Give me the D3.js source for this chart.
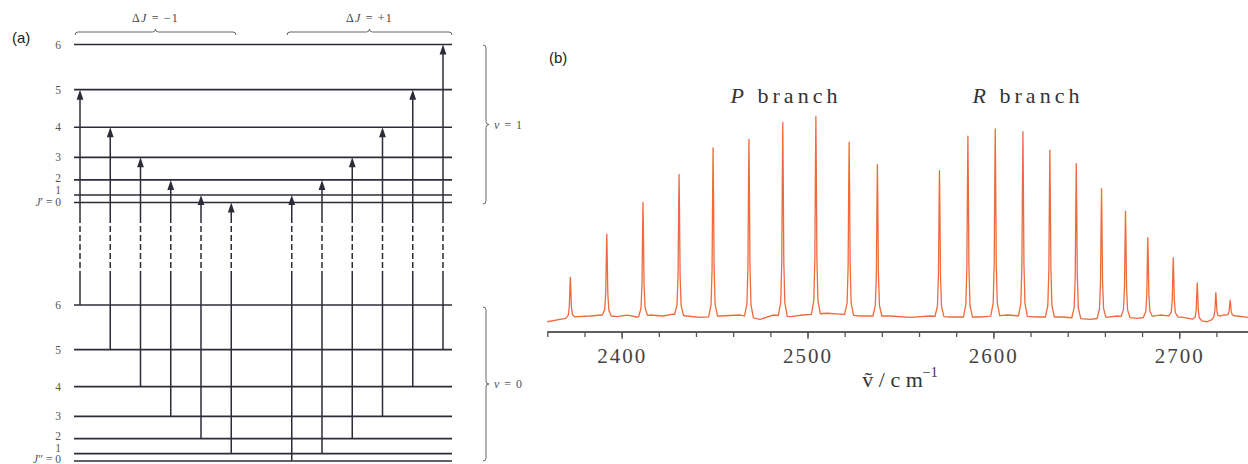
<!DOCTYPE html>
<html>
<head>
<meta charset="utf-8">
<style>
  body { margin: 0; background: #fff; }
  svg { display: block; }
</style>
</head>
<body>
<script src="https://cdn.jsdelivr.net/npm/d3@7"></script>
<script>
// ---------- data: panel (a) ----------
var levelJ = [0, 1, 2, 3, 4, 5, 6];
var rotTerm = [0, 2, 6, 12, 20, 30, 42];          // J(J+1)
var pLowerJ = [6, 5, 4, 3, 2, 1], pUpperJ = [5, 4, 3, 2, 1, 0];
var rLowerJ = [0, 1, 2, 3, 4, 5], rUpperJ = [1, 2, 3, 4, 5, 6];

// ---------- data: panel (b) ----------
var pBranchNu = [2372.4, 2392.0, 2411.5, 2430.9, 2449.2, 2468.5, 2486.7, 2504.5, 2522.4, 2537.6];
var pBranchI  = [20.4, 41.1, 57.4, 70.9, 85.2, 89.7, 97.8, 99.8, 87.2, 76.4];
var rBranchNu = [2571.0, 2586.3, 2601.0, 2615.9, 2630.4, 2644.6, 2658.2, 2671.1, 2683.1, 2696.8, 2709.7, 2719.7, 2727.4];
var rBranchI  = [73.7, 91.4, 94.4, 93.1, 84.3, 78.1, 65.3, 53.5, 40.0, 29.6, 18.7, 12.8, 7.7];
var baseNu = [2360, 2366.8, 2376, 2383, 2389.4, 2397.5, 2402.9, 2408.3, 2415.3, 2422.3, 2427.6, 2435.2,
              2442.2, 2452.9, 2463.7, 2474.5, 2481.5, 2490.6, 2497.6, 2510.5, 2517.5, 2528.3, 2544.4,
              2555.2, 2566, 2576.7, 2592.9, 2607.4, 2623.6, 2637.5, 2652.1, 2666.6, 2677.4, 2689.7,
              2702.1, 2715, 2723.6, 2731.2, 2737];
var baseI  = [-2.4, -1.2, 0.2, 0.5, 1, 0.2, 1, 0, 1, 0.5, 1.5, 0.5,
              -0.2, 0.5, 1, -1.2, 1, 0.2, 1, 1.9, 1.5, 0.5, 0.5,
              -0.2, 0.5, 0, 0, 1, 0, 0, -1.2, 0.5, -0.7, 1,
              -0.2, -2.4, 1, 0.5, -0.2];
var majorTicks = [2400, 2500, 2600, 2700];
var minorTicks = d3.range(2360, 2737, 20);

var W = 1248, H = 464;
var svg = d3.select("body").append("svg").attr("width", W).attr("height", H);
svg.append("rect").attr("width", W).attr("height", H).attr("fill", "#fff");

var ink = "#2c2c38", serif = "'Liberation Serif', 'DejaVu Serif', serif";

// ================= panel (a) =================
var a = svg.append("g");
a.append("text").attr("x", 12).attr("y", 43).text("(a)")
    .attr("font-family", "'Liberation Sans', Arial, sans-serif").attr("font-size", 15).attr("fill", "#222");

var yUpper = d3.scaleLinear().domain([0, 42]).range([202.5, 44.5]);
var yLower = d3.scaleLinear().domain([0, 42]).range([461, 305]);
var xSlot = d3.scaleLinear().domain([0, 12]).range([80, 443]);
var levelX0 = 74, levelX1 = 452;

function drawLevels(yScale, prime, shift) {
    levelJ.forEach(function (j, i) {
        var y = yScale(rotTerm[i]);
        a.append("line").attr("x1", levelX0).attr("x2", levelX1).attr("y1", y).attr("y2", y)
            .attr("stroke", ink).attr("stroke-width", 1.7);
        var t = a.append("text").attr("x", 61).attr("y", y + shift[j])
            .attr("text-anchor", "end").attr("font-family", serif).attr("font-size", 11.5).attr("fill", "#555");
        if (j === 0) {
            t.append("tspan").attr("font-style", "italic").text("J");
            t.append("tspan").text(prime + " = 0");
        } else {
            t.text(j);
        }
    });
}
drawLevels(yUpper, "\u2032", [3.5, -1, 2, 4, 4, 4, 4]);
drawLevels(yLower, "\u2033", [2, -2, 1, 4, 4, 4, 4]);

var dashTop = 218, dashBot = 277;
var transitions = pLowerJ.map(function (lj, i) { return { slot: i, lo: lj, up: pUpperJ[i] }; })
    .concat(rLowerJ.map(function (lj, i) { return { slot: i + 7, lo: lj, up: rUpperJ[i] }; }));

transitions.forEach(function (d) {
    var x = xSlot(d.slot), y0 = yLower(rotTerm[d.lo]), y1 = yUpper(rotTerm[d.up]);
    a.append("line").attr("x1", x).attr("x2", x).attr("y1", y0).attr("y2", dashBot)
        .attr("stroke", ink).attr("stroke-width", 1.5);
    a.append("line").attr("x1", x).attr("x2", x).attr("y1", dashBot).attr("y2", dashTop)
        .attr("stroke", ink).attr("stroke-width", 1.5).attr("stroke-dasharray", "6,3");
    a.append("line").attr("x1", x).attr("x2", x).attr("y1", dashTop).attr("y2", y1 + 6)
        .attr("stroke", ink).attr("stroke-width", 1.5);
    a.append("path").attr("d", "M" + x + "," + y1 + "L" + (x - 3.4) + "," + (y1 + 10) + "L" + (x + 3.4) + "," + (y1 + 10) + "Z")
        .attr("fill", ink);
});

function hBrace(x1, x2, y, q) {
    var m = (x1 + x2) / 2;
    return "M" + x1 + "," + (y + q) + "Q" + x1 + "," + y + " " + (x1 + q) + "," + y +
        "L" + (m - q) + "," + y + "Q" + m + "," + y + " " + m + "," + (y - q) +
        "Q" + m + "," + y + " " + (m + q) + "," + y +
        "L" + (x2 - q) + "," + y + "Q" + x2 + "," + y + " " + x2 + "," + (y + q);
}
function vBrace(x, y1, y2, q) {
    var m = (y1 + y2) / 2;
    return "M" + (x - q) + "," + y1 + "Q" + x + "," + y1 + " " + x + "," + (y1 + q) +
        "L" + x + "," + (m - q) + "Q" + x + "," + m + " " + (x + q) + "," + m +
        "Q" + x + "," + m + " " + x + "," + (m + q) +
        "L" + x + "," + (y2 - q) + "Q" + x + "," + y2 + " " + (x - q) + "," + y2;
}
[[75, 236, "\u22121"], [287, 452, "+1"]].forEach(function (b) {
    a.append("path").attr("d", hBrace(b[0], b[1], 32, 3)).attr("fill", "none").attr("stroke", "#666").attr("stroke-width", 1);
    var t = a.append("text").attr("x", (b[0] + b[1]) / 2).attr("y", 22).attr("text-anchor", "middle")
        .attr("font-family", serif).attr("font-size", 12).attr("fill", "#444").attr("letter-spacing", 1.2);
    t.append("tspan").text("\u0394");
    t.append("tspan").attr("font-style", "italic").text("J");
    t.append("tspan").text("  =  " + b[2]);
});
[[45, 204, "1"], [307, 461, "0"]].forEach(function (b) {
    a.append("path").attr("d", vBrace(486, b[0], b[1], 3)).attr("fill", "none").attr("stroke", "#666").attr("stroke-width", 1);
    var t = a.append("text").attr("x", 494).attr("y", (b[0] + b[1]) / 2 + 4)
        .attr("font-family", serif).attr("font-size", 12).attr("fill", "#555").attr("letter-spacing", 1);
    t.append("tspan").attr("font-style", "italic").text("v");
    t.append("tspan").text("  =  " + b[2]);
});

// ================= panel (b) =================
var b = svg.append("g");
b.append("text").attr("x", 549).attr("y", 63).text("(b)")
    .attr("font-family", "'Liberation Sans', Arial, sans-serif").attr("font-size", 15).attr("fill", "#222");

var x = d3.scaleLinear().domain([2360, 2737]).range([547.3, 1248]);
var y = d3.scaleLinear().domain([0, 100]).range([317, 119]);
var base = d3.scaleLinear().domain(baseNu).range(baseI);

var peakShape = [[-2.4, 0], [-1.1, 0.07], [-0.55, 0.28], [-0.22, 0.75], [0, 1],
                 [0.22, 0.75], [0.55, 0.28], [1.1, 0.07], [2.4, 0]];
var pts = baseNu.map(function (n, i) { return [n, baseI[i]]; });
var allNu = pBranchNu.concat(rBranchNu), allI = pBranchI.concat(rBranchI);
allNu.forEach(function (n, i) {
    peakShape.forEach(function (s) {
        var nu = n + s[0];
        pts.push([nu, base(nu) + s[1] * allI[i]]);
    });
});
pts.sort(function (p, q) { return p[0] - q[0]; });

var line = d3.line().x(function (d) { return x(d[0]); }).y(function (d) { return y(d[1]); });
b.append("path").datum(pts).attr("d", line).attr("fill", "none")
    .attr("stroke", "#f06a3c").attr("stroke-width", 1.3).attr("stroke-linejoin", "round");

var axisY = 332;
var minorAxis = b.append("g").attr("transform", "translate(0," + axisY + ")")
    .call(d3.axisBottom(x).tickValues(minorTicks).tickSize(5).tickFormat(""));
var majorAxis = b.append("g").attr("transform", "translate(0," + axisY + ")")
    .call(d3.axisBottom(x).tickValues(majorTicks).tickSize(7).tickPadding(9).tickFormat(d3.format("d")));
[minorAxis, majorAxis].forEach(function (g) {
    g.selectAll(".domain").attr("stroke", "#555").attr("stroke-width", 1.3)
        .attr("d", "M" + x(2360) + ",0H" + x(2737));
    g.selectAll(".tick line").attr("stroke", "#555").attr("stroke-width", 1.3);
});
majorAxis.selectAll(".tick text").attr("font-family", serif).attr("font-size", 21)
    .attr("fill", "#444").attr("letter-spacing", 2);

var xl = b.append("text").attr("x", 900).attr("y", 387).attr("text-anchor", "middle")
    .attr("font-family", serif).attr("font-size", 22).attr("fill", "#333");
xl.append("tspan").text("\u1E7D / c m");
xl.append("tspan").attr("dy", -10).attr("font-size", 14).text("\u22121");

[[786, "P"], [1028, "R"]].forEach(function (d) {
    var t = b.append("text").attr("x", d[0]).attr("y", 103).attr("text-anchor", "middle")
        .attr("font-family", serif).attr("font-size", 22).attr("fill", "#333").attr("letter-spacing", 4);
    t.append("tspan").attr("font-style", "italic").text(d[1]);
    t.append("tspan").text(" branch");
});
</script>
</body>
</html>
